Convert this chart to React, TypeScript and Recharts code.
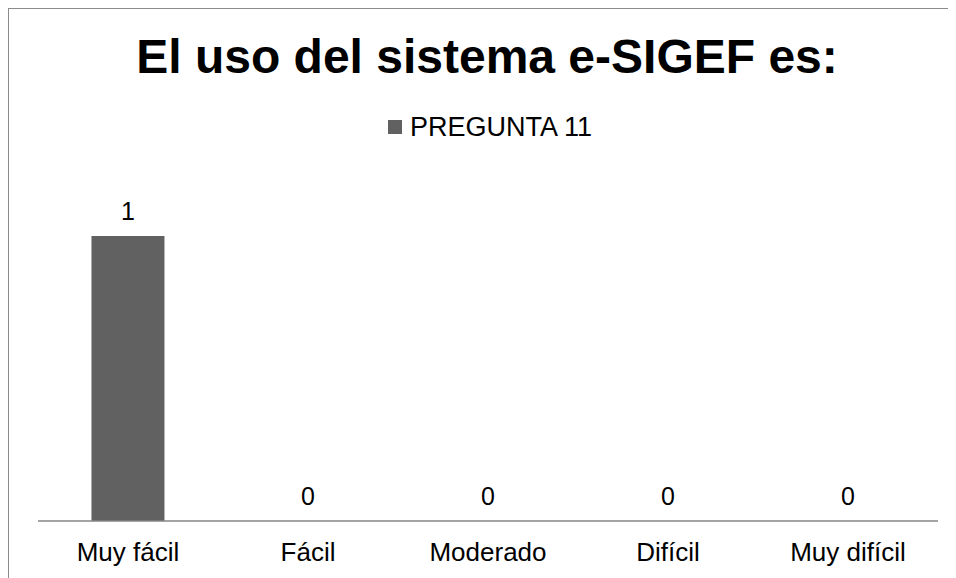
import React from "react";
import { ComposedChart, Bar, Line, XAxis, YAxis, LabelList } from "recharts";

const categories = ["Muy fácil", "Fácil", "Moderado", "Difícil", "Muy difícil"];
const pregunta11 = [1, 0, 0, 0, 0];
const seriesName = "PREGUNTA 11";

const data = categories.map((c, i) => ({ name: c, value: pregunta11[i] }));

const FONT = '"Liberation Sans", Arial, sans-serif';
const BAR = "#616161";

export default function App() {
  return (
    <div
      style={{
        position: "relative",
        width: 948,
        height: 570,
        borderTop: "1px solid #8c8c8c",
        borderLeft: "1px solid #8c8c8c",
        boxSizing: "border-box",
        fontFamily: FONT,
      }}
    >
      <div
        style={{
          position: "absolute",
          top: 20,
          left: 0,
          width: 956,
          textAlign: "center",
          fontSize: 48,
          fontWeight: 700,
          lineHeight: "56px",
          color: "#000",
        }}
      >
        El uso del sistema e-SIGEF es:
      </div>
      <div
        style={{
          position: "absolute",
          top: 102,
          left: 0,
          width: 962,
          display: "flex",
          alignItems: "center",
          justifyContent: "center",
          fontSize: 27,
          lineHeight: "32px",
          color: "#000",
        }}
      >
        <span style={{ width: 14, height: 14, background: BAR, display: "inline-block", marginRight: 8 }} />
        <span>{seriesName}</span>
      </div>
      <ComposedChart
        width={947}
        height={569}
        data={data}
        margin={{ top: 227, right: 18, left: 29, bottom: 7 }}
        barCategoryGap="29.7%"
      >
        <XAxis
          dataKey="name"
          height={50}
          tickLine={false}
          tickMargin={16}
          axisLine={{ stroke: "#868686", strokeWidth: 1.5 }}
          tick={{ fontSize: 26, fill: "#000", fontFamily: FONT }}
        />
        <YAxis hide domain={[0, 1]} />
        <Bar dataKey="value" name={seriesName} fill={BAR} isAnimationActive={false} />
        {/* invisible series that only carries the data labels, so zeros get one too */}
        <Line
          dataKey="value"
          stroke="none"
          dot={false}
          activeDot={false}
          legendType="none"
          isAnimationActive={false}
        >
          <LabelList
            dataKey="value"
            position="top"
            offset={16}
            style={{ fontSize: 25, fill: "#000", fontFamily: FONT }}
          />
        </Line>
      </ComposedChart>
    </div>
  );
}
